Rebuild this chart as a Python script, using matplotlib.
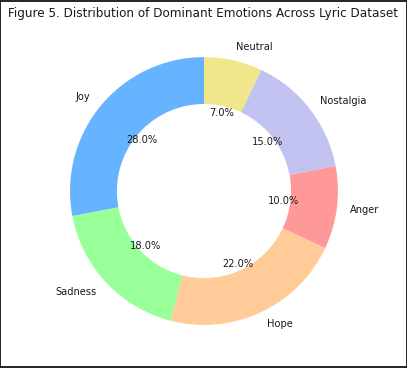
import matplotlib

matplotlib.use("Agg")
import matplotlib.pyplot as plt  # noqa: E402

labels = ["Joy", "Sadness", "Hope", "Anger", "Nostalgia", "Neutral"]
shares = [28, 18, 22, 10, 15, 7]
colors = ["#66b3ff", "#99ff99", "#ffcc99", "#ff9999", "#c2c2f0", "#f0e68c"]

fig = plt.figure(figsize=(4.07, 3.68), dpi=100)
fig.patch.set_facecolor("white")
ax = fig.add_axes([0.0897, 0.0258, 0.823, 0.910])

ax.pie(shares, labels=labels, colors=colors, autopct="%1.1f%%", startangle=90,
       pctdistance=0.6, labeldistance=1.1,
       textprops={"fontsize": 7.1, "color": "#1a1a1a"})
ax.add_artist(plt.Circle((0, 0), 0.65, fc="white"))
ax.set_aspect("equal")
ax.set_xlim(-1.25, 1.25)
ax.set_ylim(-1.25, 1.25)

fig.text(0.5, 1 - 14 / 368, "Figure 5. Distribution of Dominant Emotions Across Lyric Dataset",
         ha="center", va="center", fontsize=8.65, color="#1a1a1a")

# thin black frame around the whole figure
fig.add_artist(plt.Rectangle((0.0012, 0.0014), 0.9976, 0.9972, transform=fig.transFigure,
                             fill=False, edgecolor="black", linewidth=1.2))

fig.savefig("out.png", dpi=100, facecolor=fig.get_facecolor())
